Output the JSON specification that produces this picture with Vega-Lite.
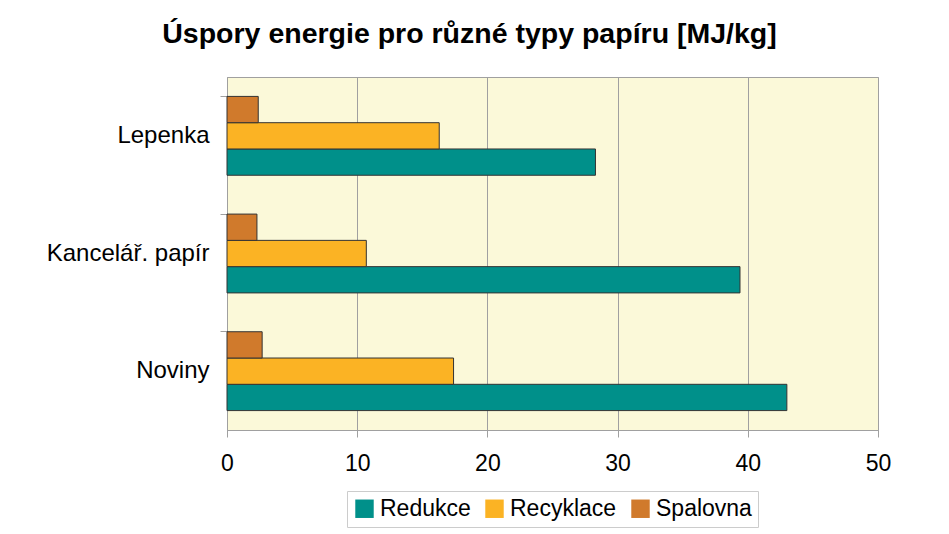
{
  "$schema": "https://vega.github.io/schema/vega-lite/v6.json",
  "autosize": "none",
  "width": 651,
  "height": 353,
  "padding": {"left": 227, "top": 77, "right": 71, "bottom": 104},
  "background": "white",
  "title": {
    "text": "Úspory energie pro různé typy papíru [MJ/kg]",
    "font": "Liberation Sans",
    "fontSize": 28.5,
    "fontWeight": "bold",
    "color": "#000000",
    "anchor": "middle",
    "dx": -83,
    "dy": 24,
    "baseline": "alphabetic",
    "offset": 30
  },
  "data": {
    "values": [
      {"typ": "Lepenka", "kategorie": "Redukce", "hodnota": 28.3},
      {"typ": "Lepenka", "kategorie": "Recyklace", "hodnota": 16.3},
      {"typ": "Lepenka", "kategorie": "Spalovna", "hodnota": 2.4},
      {"typ": "Kancelář. papír", "kategorie": "Redukce", "hodnota": 39.4},
      {"typ": "Kancelář. papír", "kategorie": "Recyklace", "hodnota": 10.7},
      {"typ": "Kancelář. papír", "kategorie": "Spalovna", "hodnota": 2.3},
      {"typ": "Noviny", "kategorie": "Redukce", "hodnota": 43.0},
      {"typ": "Noviny", "kategorie": "Recyklace", "hodnota": 17.4},
      {"typ": "Noviny", "kategorie": "Spalovna", "hodnota": 2.7}
    ]
  },
  "mark": {"type": "bar", "stroke": "#333333", "strokeWidth": 1},
  "encoding": {
    "y": {
      "field": "typ",
      "type": "nominal",
      "sort": ["Lepenka", "Kancelář. papír", "Noviny"],
      "scale": {"paddingInner": 0.33, "paddingOuter": 0.165},
      "axis": {
        "title": null,
        "bandPosition": 0,
        "labelFont": "Liberation Sans",
        "labelFontSize": 24,
        "labelColor": "#000000",
        "labelPadding": 11,
        "tickSize": 7,
        "tickColor": "#A0A0A0",
        "domainColor": "#A0A0A0",
        "grid": false
      }
    },
    "yOffset": {
      "field": "kategorie",
      "type": "nominal",
      "sort": ["Spalovna", "Recyklace", "Redukce"],
      "scale": {"paddingInner": 0, "paddingOuter": 0}
    },
    "x": {
      "field": "hodnota",
      "type": "quantitative",
      "scale": {"domain": [0, 50], "nice": false},
      "axis": {
        "title": null,
        "values": [0, 10, 20, 30, 40, 50],
        "labelFlush": false,
        "labelFont": "Liberation Sans",
        "labelFontSize": 23,
        "labelColor": "#000000",
        "labelPadding": 15,
        "tickSize": 7,
        "tickColor": "#A0A0A0",
        "domainColor": "#A0A0A0",
        "grid": true,
        "gridColor": "#A0A0A0",
        "gridWidth": 1
      }
    },
    "color": {
      "field": "kategorie",
      "type": "nominal",
      "scale": {
        "domain": ["Redukce", "Recyklace", "Spalovna"],
        "range": ["#00908A", "#FBB324", "#D07A2C"]
      },
      "legend": {
        "title": null,
        "orient": "bottom",
        "direction": "horizontal",
        "offset": 16,
        "symbolType": "square",
        "symbolSize": 340,
        "symbolFillOpacity": 1,
        "symbolStrokeWidth": 0,
        "labelFont": "Liberation Sans",
        "labelFontSize": 23,
        "labelColor": "#000000",
        "labelOffset": 4,
        "columnPadding": 12,
        "padding": 6,
        "strokeColor": "#CCCCCC"
      }
    }
  },
  "config": {
    "view": {"fill": "#FBF9D9", "stroke": "#A0A0A0"},
    "legend": {"layout": {"bottom": {"anchor": "middle"}}}
  }
}
